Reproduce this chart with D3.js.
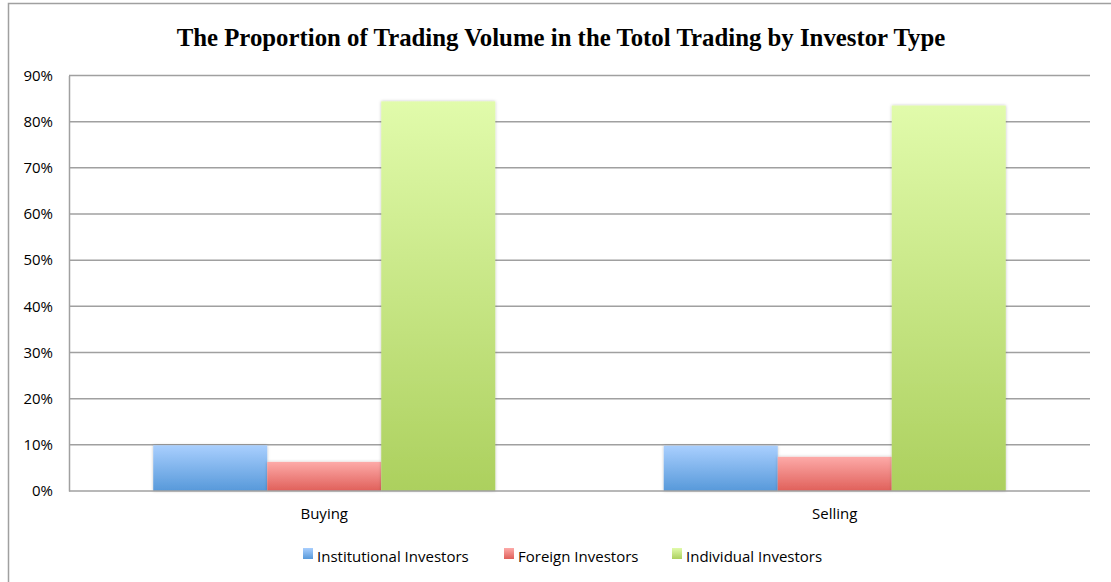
<!DOCTYPE html>
<html>
<head>
<meta charset="utf-8">
<script src="https://d3js.org/d3.v7.min.js"></script>
<style>
  body { margin: 0; background: #fff; }
  text { font-family: "Open Sans", "Liberation Sans", sans-serif; }
</style>
</head>
<body>
<svg id="chart"></svg>
<script>
// data
const categories = ["Buying", "Selling"];
const seriesNames = ["Institutional Investors", "Foreign Investors", "Individual Investors"];
const institutional = [0.099, 0.098];
const foreign = [0.063, 0.074];
const individual = [0.844, 0.835];
const yTicks = [0, 0.1, 0.2, 0.3, 0.4, 0.5, 0.6, 0.7, 0.8, 0.9];

const seriesValues = [institutional, foreign, individual];
const colorsTop = ["#a9cffe", "#fdaaa8", "#e1fbab"];
const colorsBottom = ["#5799da", "#e0605a", "#acd05e"];

const width = 1111, height = 582;
const margin = { top: 75.5, right: 21, bottom: 91, left: 69 };

const svg = d3.select('#chart')
  .attr('width', width)
  .attr('height', height);

// outer frame
svg.append('rect')
  .attr('x', 8.5).attr('y', 3.5)
  .attr('width', 1120).attr('height', 600)
  .attr('fill', 'none')
  .attr('stroke', '#a0a0a0')
  .attr('stroke-width', 1.5);

const defs = svg.append('defs');
seriesNames.forEach((s, i) => {
  const g = defs.append('linearGradient')
    .attr('id', 'grad' + i)
    .attr('x1', 0).attr('y1', 0).attr('x2', 0).attr('y2', 1);
  g.append('stop').attr('offset', '0%').attr('stop-color', colorsTop[i]);
  g.append('stop').attr('offset', '100%').attr('stop-color', colorsBottom[i]);
});
const shadow = defs.append('filter').attr('id', 'shadow')
  .attr('x', '-10%').attr('y', '-10%').attr('width', '120%').attr('height', '120%');
shadow.append('feDropShadow')
  .attr('dx', 0).attr('dy', 0).attr('stdDeviation', 1.5)
  .attr('flood-color', '#000').attr('flood-opacity', 0.25);

const x0 = d3.scaleBand()
  .domain(categories)
  .range([margin.left, width - margin.right])
  .paddingInner(0.33)
  .paddingOuter(0.165);

const x1 = d3.scaleBand()
  .domain(seriesNames)
  .range([0, x0.bandwidth()]);

const y = d3.scaleLinear()
  .domain([0, 0.9])
  .range([height - margin.bottom, margin.top]);

// gridlines
svg.append('g')
  .selectAll('line')
  .data(yTicks.slice(1))
  .enter().append('line')
  .attr('x1', margin.left)
  .attr('x2', width - margin.right)
  .attr('y1', d => y(d))
  .attr('y2', d => y(d))
  .attr('stroke', '#a0a0a0')
  .attr('stroke-width', 1.5);

// y axis
const yAxis = svg.append('g')
  .attr('transform', `translate(${margin.left},0)`)
  .call(d3.axisLeft(y).tickValues(yTicks).tickFormat(d3.format('.0%')).tickSize(0).tickPadding(16));
yAxis.select('.domain').attr('stroke', '#a0a0a0').attr('stroke-width', 1.5);
yAxis.selectAll('text').attr('font-size', 15).attr('fill', '#000');

// bars
const groups = svg.append('g')
  .selectAll('g')
  .data(categories)
  .enter().append('g')
  .attr('transform', d => `translate(${x0(d)},0)`);

groups.selectAll('rect')
  .data((d, ci) => seriesNames.map((s, si) => ({ s: s, si: si, v: seriesValues[si][ci] })))
  .enter().append('rect')
  .attr('x', d => x1(d.s))
  .attr('width', x1.bandwidth())
  .attr('y', d => y(d.v))
  .attr('height', d => y(0) - y(d.v))
  .attr('fill', d => `url(#grad${d.si})`)
  .attr('filter', 'url(#shadow)');

// x axis
const xAxis = svg.append('g')
  .attr('transform', `translate(0,${y(0)})`)
  .call(d3.axisBottom(x0).tickSize(0).tickPadding(17));
xAxis.select('.domain')
  .attr('d', `M${margin.left},0H${width - margin.right}`)
  .attr('stroke', '#a0a0a0').attr('stroke-width', 1.5);
xAxis.selectAll('text').attr('font-size', 15).attr('fill', '#000');

// title
svg.append('text')
  .attr('x', 561)
  .attr('y', 46)
  .attr('text-anchor', 'middle')
  .style('font-family', '"Liberation Serif", "Times New Roman", serif')
  .style('font-weight', 'bold')
  .style('font-size', '24.8px')
  .text('The Proportion of Trading Volume in the Totol Trading by Investor Type');

// legend
const legendX = [303, 504, 672];
const legend = svg.append('g')
  .selectAll('g')
  .data(seriesNames)
  .enter().append('g')
  .attr('transform', (d, i) => `translate(${legendX[i]},548)`);
legend.append('rect')
  .attr('width', 10).attr('height', 11)
  .attr('fill', (d, i) => `url(#grad${i})`);
legend.append('text')
  .attr('x', 14)
  .attr('y', 13.5)
  .attr('font-size', 15)
  .text(d => d);
</script>
</body>
</html>
